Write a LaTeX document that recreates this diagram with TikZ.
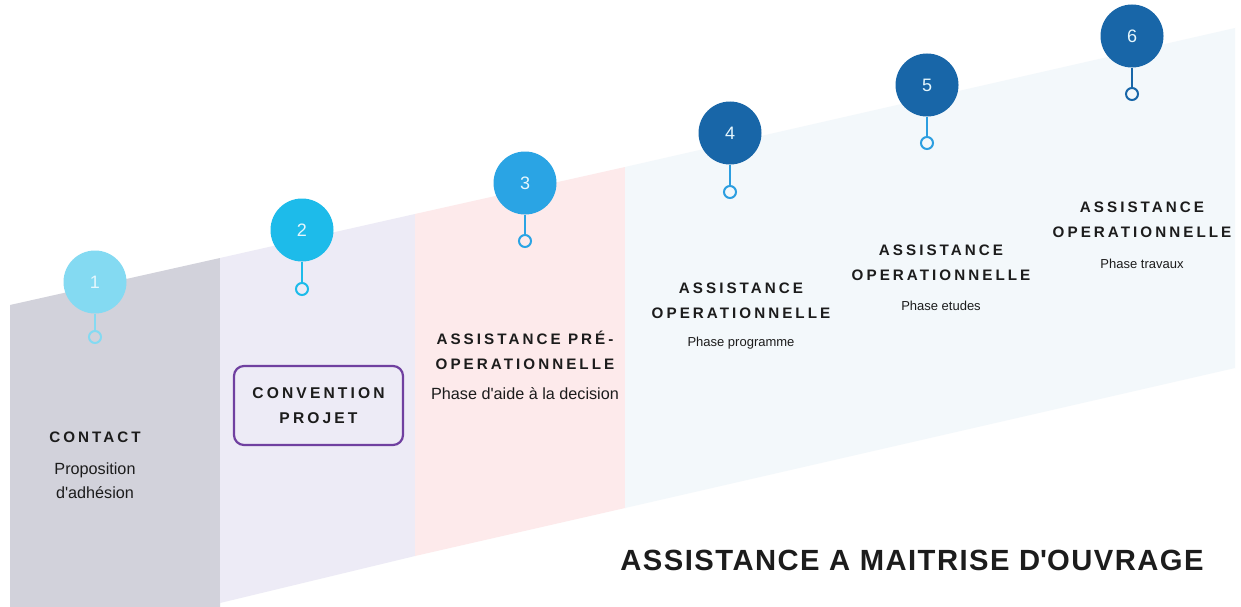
\documentclass[tikz,border=0pt]{standalone}
\usepackage{fontspec}
\setmainfont{Liberation Sans}
\newfontfamily\headfont[LetterSpace=20]{Liberation Sans}
\newfontfamily\titlefont[LetterSpace=5]{Liberation Sans}
\definecolor{pgray}{RGB}{210,210,219}
\definecolor{plav}{RGB}{237,235,246}
\definecolor{ppink}{RGB}{253,234,235}
\definecolor{pblue}{RGB}{243,248,251}
\definecolor{cA}{RGB}{132,218,242}
\definecolor{cB}{RGB}{29,187,234}
\definecolor{cC}{RGB}{42,164,228}
\definecolor{cD}{RGB}{24,102,168}
\definecolor{cE}{RGB}{44,158,224}
\definecolor{txt}{RGB}{28,28,28}
\definecolor{purp}{RGB}{112,64,160}
\tikzset{
  numc/.style={circle, minimum size=63pt, inner sep=0pt, text=white!90!cyan,
    font=\fontsize{18}{18}\selectfont},
  ringc/.style={circle, minimum size=12pt, inner sep=0pt, line width=2pt},
  stemline/.style={line width=2pt},
  head/.style={font=\headfont\bfseries\fontsize{15.2}{25}\selectfont, text=txt, align=center, inner sep=0pt},
  subA/.style={font=\fontsize{16.2}{24}\selectfont, text=txt, align=center, inner sep=0pt},
  subB/.style={font=\fontsize{13}{16}\selectfont, text=txt, align=center, inner sep=0pt},
  convbox/.style={draw=purp, line width=2.2pt, rounded corners=10pt, minimum width=169pt,
    minimum height=79pt, inner sep=0pt, align=center, text=txt,
    font=\headfont\bfseries\fontsize{15.6}{25}\selectfont},
  titletext/.style={font=\titlefont\bfseries\fontsize{29.2}{30}\selectfont, text=txt, inner sep=0pt}
}
\begin{document}
\begin{tikzpicture}[x=1pt, y=-1pt]
\useasboundingbox (0,0) rectangle (1241,607);
\fill[white] (0,0) rectangle (1241,607);
% panels
\fill[pgray] (10,305) -- (220,258) -- (220,607) -- (10,607) -- cycle;
\fill[plav] (220,258) -- (415,214) -- (415,556) -- (220,603) -- cycle;
\fill[ppink] (415,214) -- (625,167) -- (625,508) -- (415,556) -- cycle;
\fill[pblue] (625,167) -- (1235,28) -- (1235,368) -- (625,508) -- cycle;
% circles, stems, rings
\node[numc, fill=cA] (n1) at (95,282) {1};
\node[ringc, draw=cA] (r1) at (95,337) {};
\draw[stemline, cA] (n1.south) -- (r1.north);
\node[numc, fill=cB] (n2) at (302,230) {2};
\node[ringc, draw=cB] (r2) at (302,289) {};
\draw[stemline, cB] (n2.south) -- (r2.north);
\node[numc, fill=cC] (n3) at (525,183) {3};
\node[ringc, draw=cC] (r3) at (525,241) {};
\draw[stemline, cC] (n3.south) -- (r3.north);
\node[numc, fill=cD] (n4) at (730,133) {4};
\node[ringc, draw=cE] (r4) at (730,192) {};
\draw[stemline, cE] (n4.south) -- (r4.north);
\node[numc, fill=cD] (n5) at (927,85) {5};
\node[ringc, draw=cE] (r5) at (927,143) {};
\draw[stemline, cE] (n5.south) -- (r5.north);
\node[numc, fill=cD] (n6) at (1132,36) {6};
\node[ringc, draw=cD] (r6) at (1132,94) {};
\draw[stemline, cD] (n6.south) -- (r6.north);
% texts
\node[head] (h1) at (95,437) {CONTACT};
\node[subA] (s1) at (95,481) {Proposition\\d\textquotesingle adhésion};
\node[convbox] (cv) at (318.5,405.5) {CONVENTION\\PROJET};
\node[head] (h3) at (525,350) {ASSISTANCE PRÉ-\\OPERATIONNELLE};
\node[subA] (s3) at (525,394) {Phase d\textquotesingle aide à la decision};
\node[head] (h4) at (741,300.5) {ASSISTANCE\\OPERATIONNELLE};
\node[subB] (s4) at (741,343) {Phase programme};
\node[head] (h5) at (941,262.5) {ASSISTANCE\\OPERATIONNELLE};
\node[subB] (s5) at (941,306) {Phase etudes};
\node[head] (h6) at (1142,219.5) {ASSISTANCE\\OPERATIONNELLE};
\node[subB] (s6) at (1142,264) {Phase travaux};
\node[titletext] (t) at (912,560) {ASSISTANCE A MAITRISE D\textquotesingle OUVRAGE};
\end{tikzpicture}
\end{document}
